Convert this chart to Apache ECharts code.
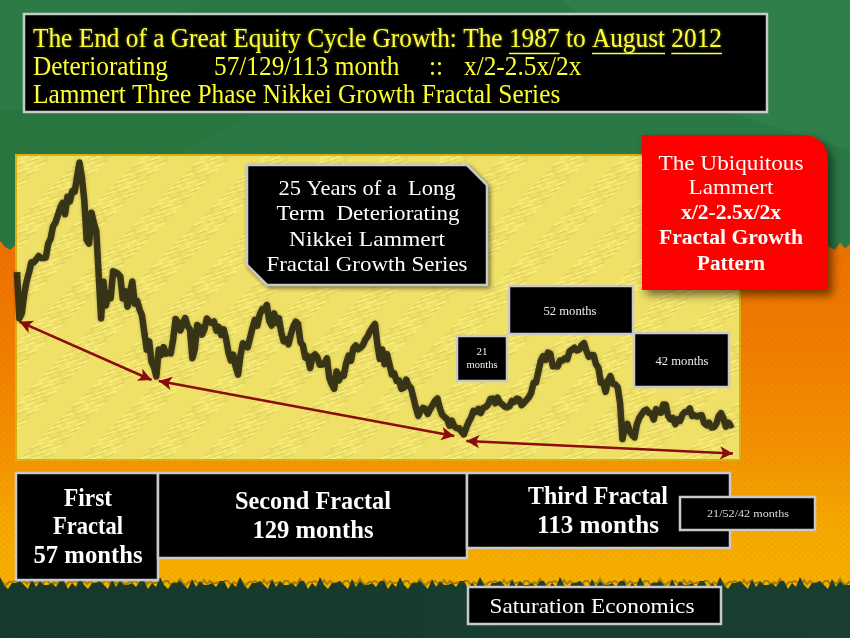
<!DOCTYPE html>
<html><head><meta charset="utf-8">
<script src="https://cdn.jsdelivr.net/npm/echarts@6/dist/echarts.min.js"></script>
<style>html,body{margin:0;padding:0;background:#2a7845}#c{width:850px;height:638px}</style>
</head><body><div id="c"></div>
<script>
// ---------------- DATA ----------------
const startYear = 1987, startMonth = 10; // Oct 1987 .. Aug 2012, monthly
const nikkeiClose = [
  26300, 21000, 21564,                                                          // 1987
  23719, 25242, 26260, 27434, 27417, 27769, 28152, 27912, 27924, 27983, 29579, 30159, // 1988
  31581, 31985, 32839, 33713, 34267, 32949, 34954, 34431, 35636, 35549, 37268, 38916, // 1989
  37189, 34591, 29980, 29585, 33131, 31940, 31036, 25978, 20984, 25194, 22454, 23849, // 1990
  23293, 26409, 26292, 26111, 25790, 23291, 24121, 22336, 23916, 25222, 22687, 22984, // 1991
  22023, 21339, 19346, 17391, 18348, 15952, 15400, 14300, 17399, 16768, 17683, 16925, // 1992
  17024, 16953, 18591, 20919, 20552, 19590, 20380, 21027, 20106, 19703, 16407, 17417, // 1993
  20229, 19997, 19112, 19725, 20974, 20644, 20449, 20629, 19564, 19990, 19076, 19723, // 1994
  18650, 17053, 16140, 16807, 15437, 14517, 16678, 18117, 17913, 17655, 18744, 19868, // 1995
  20813, 20125, 21407, 22041, 21956, 22531, 20693, 20167, 21556, 20467, 21020, 19361, // 1996
  18330, 18557, 18003, 19151, 20069, 20605, 20331, 18229, 17888, 16459, 16636, 15259, // 1997
  16628, 16831, 16527, 15641, 15671, 15830, 16379, 14108, 13406, 12900, 14883, 13842, // 1998
  14499, 14368, 15837, 16701, 16112, 17530, 17862, 17437, 17605, 17942, 18558, 18934, // 1999
  19540, 19960, 20337, 17974, 16332, 17411, 15727, 16861, 15747, 14540, 14649, 13786, // 2000
  13843, 12884, 12999, 13934, 13262, 12969, 11861, 10713, 9775, 10366, 10697, 10543,  // 2001
  9998, 10588, 11025, 11493, 11764, 10622, 9877, 9619, 9383, 8640, 9216, 8579,        // 2002
  8340, 8363, 7973, 7650, 8425, 9083, 9563, 10344, 10219, 10560, 10101, 10677,        // 2003
  10784, 11042, 11715, 11762, 11236, 11859, 11326, 11082, 10824, 10771, 10899, 11489, // 2004
  11388, 11741, 11669, 11009, 11277, 11584, 11900, 12414, 13574, 13607, 14872, 16111, // 2005
  16650, 16205, 17060, 16906, 15467, 15505, 15457, 16141, 16128, 16399, 16274, 17226, // 2006
  17383, 17604, 17288, 17400, 17876, 18138, 17248, 16569, 16786, 16737, 15681, 15308, // 2007
  13592, 13603, 12526, 13850, 14339, 13481, 13377, 13073, 11260, 7100, 8512, 8860,    // 2008
  7994, 7568, 7300, 8828, 9523, 9958, 10357, 10493, 10133, 10034, 9345, 10546,        // 2009
  10198, 10126, 11090, 11057, 9769, 9383, 9537, 8824, 9369, 9202, 9937, 10229,        // 2010
  10238, 10624, 9755, 9850, 9694, 9816, 9833, 8955, 8700, 8988, 8435, 8455,           // 2011
  8803, 9723, 10084, 9521, 8543, 9007, 8695, 8840                                      // 2012
];
// fractal arrows: [fromMonthIndex, fromValue, toMonthIndex, toValue]
const fractalArrows = [
  [1, 20600, 56, 13900],
  [59, 13780, 182, 7455],
  [187, 6880, 298, 5450]
];
const yMin = 4700, yMax = 40000;

const months = [];
for (let i = 0; i < nikkeiClose.length; i++) {
  const m = startMonth - 1 + i;
  const y = startYear + Math.floor(m / 12);
  months.push(y + '-' + String(m % 12 + 1).padStart(2, '0'));
}

// ---------------- helpers ----------------
const mctx = document.createElement('canvas').getContext('2d');
function tw(text, font) { mctx.font = font; return mctx.measureText(text).width; }
function fit(text, font, target) { return target / tw(text, font); }

function textEl(text, x, y, font, fill, opts) {
  opts = opts || {};
  const el = {
    type: 'text', x: x, y: y, z: 20,
    style: { text: text, font: font, fill: fill, align: opts.align || 'center', verticalAlign: 'middle' }
  };
  if (opts.width) el.scaleX = fit(text, font, opts.width);
  if (opts.scaleX) el.scaleX = opts.scaleX;
  if (opts.shadow) { el.style.textShadowColor = opts.shadow; el.style.textShadowBlur = 3; }
  return el;
}
function box(x, y, w, h, z) {
  return { type: 'rect', z: z || 15, shape: { x: x, y: y, width: w, height: h },
    style: { fill: '#000', stroke: '#c9c9c9', lineWidth: 2.5 } };
}

// textures
function yellowPattern() {
  const c = document.createElement('canvas'); c.width = 60; c.height = 60;
  const g = c.getContext('2d');
  g.fillStyle = '#efe068'; g.fillRect(0, 0, 60, 60);
  g.lineWidth = 1.4; g.lineCap = 'round';
  for (let i = 0; i < 46; i++) {
    const px = (i * 37) % 60, py = (i * 23 + (i % 3) * 11) % 60;
    g.strokeStyle = i % 2 ? 'rgba(255,246,140,0.7)' : 'rgba(200,184,80,0.35)';
    for (let dx = -60; dx <= 60; dx += 60) for (let dy = -60; dy <= 60; dy += 60) {
      g.beginPath(); g.moveTo(px + dx, py + dy); g.lineTo(px + dx + 9, py + dy - 4); g.stroke();
    }
  }
  return c;
}
function orangePattern() {
  const c = document.createElement('canvas'); c.width = 6; c.height = 6;
  const g = c.getContext('2d');
  g.fillStyle = 'rgba(180,80,0,0.08)';
  g.fillRect(0, 0, 2, 2); g.fillRect(3, 3, 2, 2);
  return c;
}
function jagged(x0, x1, base, amp, step) {
  const pts = [];
  for (let x = x0, k = 0; x <= x1; x += step, k++) pts.push([x, base + ((k * 7) % 5 - 2) * amp / 2 + ((k * 3) % 4 === 0 ? -amp : 0)]);
  if (pts[pts.length - 1][0] < x1) pts.push([x1, base]);
  return pts;
}

// ---------------- graphic ----------------
const els = [];
els.push({ type: 'rect', z: 0, shape: { x: 0, y: 0, width: 850, height: 638 }, style: { fill: '#2a7845' } });
els.push({ type: 'polygon', z: 0, shape: { points: [[560, 0], [850, 0], [850, 150], [720, 110]] }, style: { fill: '#2e7f49' } });
els.push({ type: 'polygon', z: 0, shape: { points: [[0, 0], [200, 0], [0, 130]] }, style: { fill: '#2c7b47' } });
els.push({ type: 'polygon', z: 0, shape: { points: [[0, 110], [260, 110], [0, 250]] }, style: { fill: '#29743f' } });
// orange band
const topEdge = jagged(0, 850, 247, 3, 5);
els.push({ type: 'polygon', z: 0, shape: { points: topEdge.concat([[850, 600], [0, 600]]) },
  style: { fill: new echarts.graphic.LinearGradient(0, 0, 0, 1, [
    { offset: 0, color: '#ed7000' }, { offset: 0.3, color: '#f07d00' }, { offset: 0.6, color: '#f39400' },
    { offset: 0.8, color: '#f5a900' }, { offset: 1, color: '#f6b000' }]) } });
els.push({ type: 'polygon', z: 0, shape: { points: topEdge.concat([[850, 600], [0, 600]]) },
  style: { fill: { image: orangePattern(), repeat: 'repeat' } } });
// dark green bottom
const botEdge = jagged(0, 850, 585, 4, 4);
els.push({ type: 'polygon', z: 0, shape: { points: botEdge.concat([[850, 638], [0, 638]]) },
  style: { fill: new echarts.graphic.LinearGradient(0, 0, 1, 0, [{ offset: 0, color: '#15392b' }, { offset: 1, color: '#183f30' }]) } });
els.push({ type: 'polyline', z: 0, shape: { points: jagged(0, 850, 583, 2, 3) }, style: { stroke: 'rgba(60,70,20,0.45)', lineWidth: 2, fill: null } });

// chart panel
els.push({ type: 'rect', z: 1, shape: { x: 16, y: 155, width: 724, height: 305 },
  style: { fill: { image: yellowPattern(), repeat: 'repeat' }, stroke: '#dcae10', lineWidth: 2 } });

// title box
els.push(box(24, 14, 743, 98, 15));
const tFont = '27px "Liberation Serif"';
const tCol = '#ffff2e';
const line1 = 'The End of a Great Equity Cycle Growth: The 1987 to August 2012';
const tScale = fit(line1, tFont, 689);
els.push(textEl(line1, 33, 40, tFont, tCol, { align: 'left', scaleX: tScale, shadow: 'rgba(255,255,120,0.5)' }));
[['1987', 'The End of a Great Equity Cycle Growth: The '], ['August', 'The End of a Great Equity Cycle Growth: The 1987 to '],
 ['2012', 'The End of a Great Equity Cycle Growth: The 1987 to August ']].forEach(function (u) {
  const x0 = 33 + tw(u[1], tFont) * tScale, w = tw(u[0], tFont) * tScale;
  els.push({ type: 'line', z: 20, shape: { x1: x0, y1: 53.5, x2: x0 + w, y2: 53.5 }, style: { stroke: tCol, lineWidth: 1.5 } });
});
els.push(textEl('Deteriorating', 33, 68, tFont, tCol, { align: 'left', scaleX: tScale }));
els.push(textEl('57/129/113 month', 214, 68, tFont, tCol, { align: 'left', scaleX: tScale }));
els.push(textEl('::', 429, 68, tFont, tCol, { align: 'left', scaleX: tScale }));
els.push(textEl('x/2-2.5x/2x', 464, 68, tFont, tCol, { align: 'left', scaleX: tScale }));
els.push(textEl('Lammert Three Phase Nikkei Growth Fractal Series', 33, 96, tFont, tCol, { align: 'left', scaleX: tScale }));

// 25 years box (beveled)
els.push({ type: 'polygon', z: 15, shape: { points: [[247, 165], [467, 165], [487, 185], [487, 285], [267, 285], [247, 265]] },
  style: { fill: '#000', stroke: '#c9c9c9', lineWidth: 2.5, shadowBlur: 4, shadowColor: 'rgba(0,0,0,0.4)', shadowOffsetX: 2, shadowOffsetY: 2 } });
const bFont = '22px "Liberation Serif"';
els.push(textEl('25 Years of a  Long', 367, 189, bFont, '#fff', { width: 177 }));
els.push(textEl('Term  Deteriorating', 368, 214, bFont, '#fff', { width: 183 }));
els.push(textEl('Nikkei Lammert', 367, 240, bFont, '#fff', { width: 156 }));
els.push(textEl('Fractal Growth Series', 367, 265, bFont, '#fff', { width: 201 }));

// red box
els.push({ type: 'rect', z: 15, shape: { x: 642, y: 135, width: 186, height: 155, r: [0, 24, 0, 0] },
  style: { fill: '#ff0000', shadowBlur: 10, shadowColor: 'rgba(0,0,0,0.55)', shadowOffsetX: 4, shadowOffsetY: 5 } });
const rF = '21px "Liberation Serif"', rB = 'bold 20px "Liberation Serif"';
els.push(textEl('The Ubiquitous', 731, 164, rF, '#fff', { width: 145 }));
els.push(textEl('Lammert', 731, 188, rF, '#fff', { width: 85 }));
els.push(textEl('x/2-2.5x/2x', 731, 214, rB, '#fff', { width: 100 }));
els.push(textEl('Fractal Growth', 731, 239, rB, '#fff', { width: 144 }));
els.push(textEl('Pattern', 731, 265, rB, '#fff', { width: 68 }));

// sub-fractal boxes
els.push(box(509, 286, 124, 48));
els.push(textEl('52 months', 570, 312, '12px "Liberation Serif"', '#eee', { width: 53 }));
els.push(box(457, 336, 50, 45));
els.push(textEl('21', 482, 352, '11px "Liberation Serif"', '#eee'));
els.push(textEl('months', 482, 365, '11px "Liberation Serif"', '#eee', { width: 31 }));
els.push(box(634, 333, 95, 54));
els.push(textEl('42 months', 682, 362, '12px "Liberation Serif"', '#eee', { width: 53 }));

// bottom boxes
const fF = 'bold 25px "Liberation Serif"';
els.push(box(16, 473, 142, 107));
els.push(textEl('First', 88, 500, fF, '#fff', { width: 48 }));
els.push(textEl('Fractal', 88, 528, fF, '#fff', { width: 70 }));
els.push(textEl('57 months', 88, 557, fF, '#fff', { width: 109 }));
els.push(box(158, 473, 309, 85));
els.push(textEl('Second Fractal', 313, 503, fF, '#fff', { width: 156 }));
els.push(textEl('129 months', 313, 532, fF, '#fff', { width: 121 }));
els.push(box(467, 473, 263, 75));
els.push(textEl('Third Fractal', 598, 498, fF, '#fff', { width: 140 }));
els.push(textEl('113 months', 598, 527, fF, '#fff', { width: 122 }));
els.push(box(680, 497, 135, 33, 16));
els.push(textEl('21/52/42 months', 748, 514, '10px "Liberation Serif"', '#ddd', { width: 82 }));
els.push(box(468, 587, 253, 37));
els.push(textEl('Saturation Economics', 592, 607, '22px "Liberation Serif"', '#fff', { width: 205 }));

// ---------------- chart ----------------
const chart = echarts.init(document.getElementById('c'), null, { renderer: 'canvas' });
chart.setOption({
  animation: false,
  graphic: { elements: els },
  grid: { left: 17, right: 117, top: 153, bottom: 178, show: false },
  xAxis: { type: 'category', data: months, boundaryGap: false, show: false },
  yAxis: { type: 'value', min: yMin, max: yMax, show: false },
  series: [{
    type: 'line', data: nikkeiClose, symbol: 'none', z: 5,
    lineStyle: { color: 'rgba(35,33,12,0.85)', width: 6.5, shadowColor: 'rgba(0,0,0,0.35)', shadowBlur: 3, join: 'round' },
    markLine: {
      silent: true, symbol: ['arrow', 'arrow'], symbolSize: [10, 13], animation: false,
      label: { show: false },
      lineStyle: { color: '#8a0c0c', width: 2.5, type: 'solid' },
      data: fractalArrows.map(a => [{ coord: [a[0], a[1]] }, { coord: [a[2], a[3]] }])
    }
  }]
});
</script></body></html>
